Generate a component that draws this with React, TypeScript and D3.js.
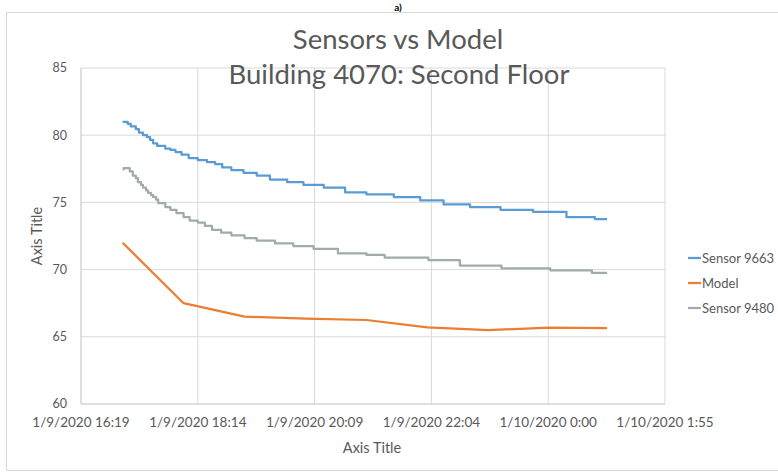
import { useEffect } from "react";
import * as d3 from "d3";

// minutes after 1/9/2020 16:19
const xTicks = [0, 115, 230, 345, 460, 575];
const xTickLabels = [
  "1/9/2020 16:19",
  "1/9/2020 18:14",
  "1/9/2020 20:09",
  "1/9/2020 22:04",
  "1/10/2020 0:00",
  "1/10/2020 1:55",
];
const yTicks = [60, 65, 70, 75, 80, 85];

const sensor9663Time = [41, 46, 49, 54, 57, 61, 65, 68, 71, 75, 83, 88, 93, 99, 106, 115, 124, 132, 139, 148, 160, 173, 186, 203, 219, 239, 260, 281, 308, 334, 357, 383, 413, 445, 478, 506, 518];
const sensor9663Temp = [81.0, 80.85, 80.65, 80.45, 80.2, 80.0, 79.85, 79.65, 79.4, 79.2, 79.0, 78.9, 78.75, 78.55, 78.3, 78.15, 78.0, 77.85, 77.6, 77.4, 77.2, 77.0, 76.7, 76.5, 76.3, 76.1, 75.75, 75.6, 75.4, 75.15, 74.85, 74.65, 74.45, 74.3, 73.9, 73.75, 73.75];

const sensor9480Time = [41, 42, 48, 51, 54, 56, 59, 61, 64, 66, 69, 71, 74, 76, 83, 88, 94, 101, 107, 115, 122, 129, 138, 148, 161, 173, 191, 209, 229, 253, 281, 299, 342, 373, 414, 462, 503, 518];
const sensor9480Temp = [77.45, 77.55, 77.3, 77.0, 76.8, 76.5, 76.3, 76.1, 75.9, 75.7, 75.55, 75.4, 75.2, 74.95, 74.65, 74.45, 74.2, 73.9, 73.65, 73.5, 73.25, 72.95, 72.75, 72.55, 72.35, 72.15, 71.95, 71.75, 71.55, 71.2, 71.1, 70.9, 70.7, 70.3, 70.1, 69.95, 69.75, 69.75];

const modelTime = [41, 101, 161, 221, 281, 341, 401, 461, 518];
const modelTemp = [72.0, 67.5, 66.5, 66.35, 66.25, 65.7, 65.5, 65.68, 65.65];

const seriesNames = ["Sensor 9663", "Model", "Sensor 9480"];
const seriesColors = ["#5b9bd5", "#ed7d31", "#a0aca9"];

const font = "Lato, 'Open Sans', 'Liberation Sans', sans-serif";
const textColor = "#595959";

export default function App() {
  useEffect(() => {
    document.body.style.margin = "0";
  }, []);

  const width = 778;
  const height = 476;

  const x = d3.scaleLinear().domain([0, 575]).range([81, 665]);
  const y = d3.scaleLinear().domain([60, 85]).range([404, 68]);

  const blueLine = d3
    .line<number>()
    .x((d) => x(d))
    .y((d, i) => y(sensor9663Temp[i]))
    .curve(d3.curveStepAfter)(sensor9663Time);
  const grayLine = d3
    .line<number>()
    .x((d) => x(d))
    .y((d, i) => y(sensor9480Temp[i]))
    .curve(d3.curveStepAfter)(sensor9480Time);
  const modelLine = d3
    .line<number>()
    .x((d) => x(d))
    .y((d, i) => y(modelTemp[i]))
    .curve(d3.curveLinear)(modelTime);

  const paths = [blueLine, modelLine, grayLine];

  return (
    <svg
      width={width}
      height={height}
      style={{ display: "block", background: "#ffffff", fontFamily: font }}
    >
      <text
        x={398}
        y={11}
        textAnchor="middle"
        fontSize="10"
        fontWeight="700"
        fill="#000"
      >
        a)
      </text>
      <rect
        x={6.5}
        y={12.5}
        width={800}
        height={458}
        fill="none"
        stroke="#d9d9d9"
        strokeWidth={1}
      />

      {yTicks.map((t) => (
        <line
          key={`gy-${t}`}
          x1={x(0)}
          x2={x(575)}
          y1={y(t)}
          y2={y(t)}
          stroke={t === 60 ? "#bfbfbf" : "#d9d9d9"}
          strokeWidth={1}
        />
      ))}
      {xTicks.map((t) => (
        <line
          key={`gx-${t}`}
          x1={x(t)}
          x2={x(t)}
          y1={y(85)}
          y2={y(60)}
          stroke={t === 0 ? "#bfbfbf" : "#d9d9d9"}
          strokeWidth={1}
        />
      ))}

      {yTicks.map((t) => (
        <text
          key={`ty-${t}`}
          x={67}
          y={y(t)}
          dy="0.35em"
          textAnchor="end"
          fontSize="12.5"
          fill={textColor}
        >
          {t}
        </text>
      ))}
      {xTicks.map((t, i) => (
        <text
          key={`tx-${t}`}
          x={x(t)}
          y={427}
          textAnchor="middle"
          fontSize="13.5"
          fill={textColor}
        >
          {xTickLabels[i]}
        </text>
      ))}

      {paths.map((p, i) => (
        <path
          key={seriesNames[i]}
          d={p ?? ""}
          fill="none"
          stroke={seriesColors[i]}
          strokeWidth={2.25}
          strokeLinejoin="round"
        />
      ))}

      <text
        x={398}
        y={49}
        textAnchor="middle"
        fontSize="27.5"
        fill={textColor}
      >
        Sensors vs Model
      </text>
      <text
        x={399}
        y={84}
        textAnchor="middle"
        fontSize="27.5"
        fill={textColor}
      >
        Building 4070: Second Floor
      </text>

      <text
        x={372}
        y={453}
        textAnchor="middle"
        fontSize="14.5"
        fill={textColor}
      >
        Axis Title
      </text>
      <text
        transform={`translate(42, ${y(72.5)}) rotate(-90)`}
        textAnchor="middle"
        fontSize="14.5"
        fill={textColor}
      >
        Axis Title
      </text>

      {seriesNames.map((name, i) => (
        <g key={`lg-${name}`} transform={`translate(0, ${258 + i * 25})`}>
          <line
            x1={688}
            x2={701}
            y1={0}
            y2={0}
            stroke={seriesColors[i]}
            strokeWidth={2.25}
          />
          <text x={702} y={0} dy="0.35em" fontSize="13" fill={textColor}>
            {name}
          </text>
        </g>
      ))}
    </svg>
  );
}
